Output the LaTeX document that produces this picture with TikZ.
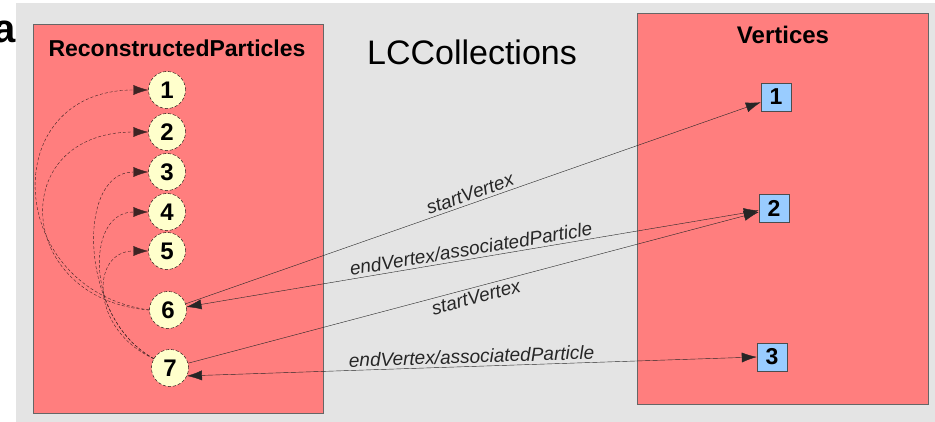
\documentclass[tikz,border=0pt]{standalone}
\usepackage{fontspec}
\setmainfont{Liberation Sans}
\usetikzlibrary{arrows.meta}
\definecolor{panelgrey}{HTML}{E4E4E4}
\definecolor{boxred}{HTML}{FF7E7E}
\definecolor{partyellow}{HTML}{FFFFCC}
\definecolor{vtxblue}{HTML}{99CCFF}
\definecolor{linkbrown}{HTML}{3E2424}

\begin{document}
\begin{tikzpicture}[x=1pt, y=-1pt, thin, >={Latex[length=15pt, width=10pt]},
                    coll/.style = {draw=black!60, fill=boxred, inner sep=0pt},
                    title/.style = {font=\fontsize{23}{23}\selectfont\bfseries},
                    part/.style = {draw, densely dashed, circle, fill=partyellow, minimum size=37pt, inner sep=0pt, font=\fontsize{24}{24}\selectfont\bfseries},
                    vtx/.style = {draw=black!70, fill=vtxblue, minimum width=30pt, minimum height=28pt, inner sep=0pt, font=\fontsize{23}{23}\selectfont\bfseries},
                    lbl/.style = {font=\fontsize{19}{19}\selectfont\itshape, sloped, inner sep=3pt},
                    link/.style = {black!85},
                    pointer/.style = {->, densely dashed, linkbrown}]
                    \useasboundingbox (0,0) rectangle (935,422);
                    \node[font=\fontsize{40}{40}\selectfont\bfseries, anchor=base east, inner sep=0pt] (cut) at (16,43) {a};
                    \fill[panelgrey] (16,3) rectangle (935,422);
                    \node[coll, minimum width=290pt, minimum height=389pt] (recbox) at (178,218.5) {};
                    \node[coll, minimum width=291pt, minimum height=391pt] (vtxbox) at (782.5,208.5) {};
                    \node[title] (rectitle) at (177,48) {ReconstructedParticles};
                    \node[title, font=\fontsize{24}{24}\selectfont\bfseries] (vtxtitle) at (783,35) {Vertices};
                    \node[font=\fontsize{34}{34}\selectfont] (lcc) at (472,52) {LCCollections};
                    \node[part] (n1) at (167,90) {1};
                    \node[part] (n2) at (167,132) {2};
                    \node[part] (n3) at (167,172) {3};
                    \node[part] (n4) at (167,212) {4};
                    \node[part] (n5) at (167,251) {5};
                    \node[part] (n6) at (168,310) {6};
                    \node[part] (n7) at (170,368) {7};
                    \node[vtx] (v1) at (776,97) {1};
                    \node[vtx] (v2) at (774,208) {2};
                    \node[vtx] (v3) at (772,357) {3};
                    \draw[pointer] (n6.west) .. controls (5,290) and (-5,90) .. (n1.west);
                    \draw[pointer] (n6.west) .. controls (15,300) and (5,132) .. (n2.west);
                    \draw[pointer] (n7.150) .. controls (80,320) and (75,172) .. (n3.west);
                    \draw[pointer] (n7.150) .. controls (85,320) and (85,212) .. (n4.west);
                    \draw[pointer] (n7.150) .. controls (90,330) and (90,251) .. (n5.west);
                    \draw[link, ->] (n6) -- node[lbl, above] {startVertex} (v1);
                    \draw[link, <->] (n6) -- node[lbl, above] {endVertex/associatedParticle} (v2);
                    \draw[link, ->] (n7) -- node[lbl, below] {startVertex} (v2);
                    \draw[link, <->] (n7.-25) -- node[lbl, above] {endVertex/associatedParticle} (v3.west);
                \end{tikzpicture}
\end{document}
